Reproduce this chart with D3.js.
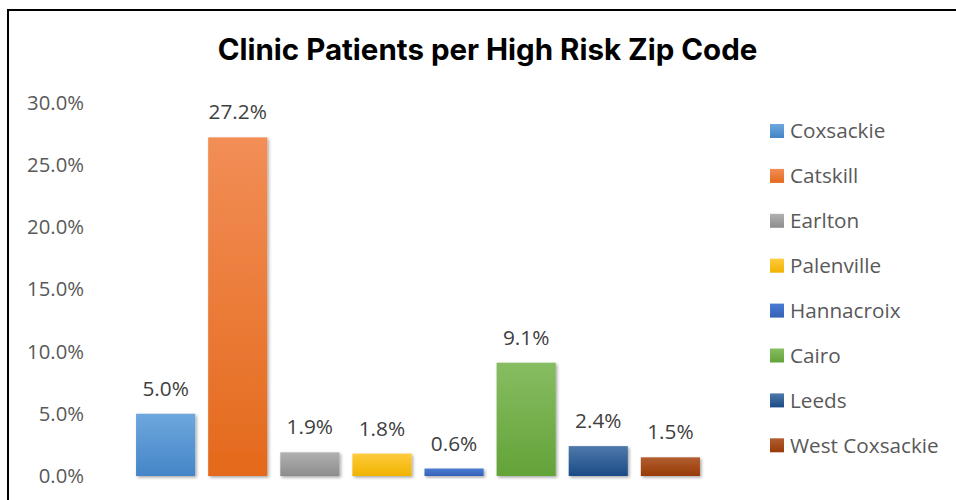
<!DOCTYPE html>
<html>
<head>
<meta charset="utf-8">
<script src="https://cdn.jsdelivr.net/npm/d3@7"></script>
<style>
  body { margin: 0; background: #fff; }
  svg { display: block; }
</style>
</head>
<body>
<div id="chart"></div>
<script>
// chart values
var zips = ["Coxsackie", "Catskill", "Earlton", "Palenville", "Hannacroix", "Cairo", "Leeds", "West Coxsackie"];
var shares = [5.0, 27.2, 1.9, 1.8, 0.6, 9.1, 2.4, 1.5];
var yTicks = [0, 5, 10, 15, 20, 25, 30];
var colorsTop = ["#6fa7de", "#f28e57", "#b1b1b1", "#ffcb3c", "#4b7cd1", "#87bd62", "#4e79ab", "#b25e31"];
var colorsBottom = ["#4485c7", "#e4691b", "#8d8d8d", "#efb300", "#3462b7", "#63a338", "#1a4b85", "#983a06"];

var W = 956, H = 500;

var svg = d3.select("#chart").append("svg")
  .attr("width", W)
  .attr("height", H);

var defs = svg.append("defs");

// soft drop shadow under the bars
var shadow = defs.append("filter")
  .attr("id", "shadow")
  .attr("x", "-20%").attr("y", "-20%")
  .attr("width", "150%").attr("height", "150%");
shadow.append("feDropShadow")
  .attr("dx", 1.5).attr("dy", 1.5)
  .attr("stdDeviation", 1.8)
  .attr("flood-color", "#000")
  .attr("flood-opacity", 0.35);

zips.forEach(function (z, i) {
  var g = defs.append("linearGradient")
    .attr("id", "grad" + i)
    .attr("x1", 0).attr("y1", 0).attr("x2", 0).attr("y2", 1);
  g.append("stop").attr("offset", "0%").attr("stop-color", colorsTop[i]);
  g.append("stop").attr("offset", "100%").attr("stop-color", colorsBottom[i]);
});

// border of the chart area (right/bottom edges run off the picture)
svg.append("rect")
  .attr("x", 8).attr("y", 10)
  .attr("width", 960).attr("height", 500)
  .attr("fill", "#fff")
  .attr("stroke", "#000")
  .attr("stroke-width", 2);

// title
svg.append("text")
  .attr("x", 487.5)
  .attr("y", 60)
  .attr("text-anchor", "middle")
  .style("font-family", "Inter, 'Liberation Sans', sans-serif")
  .style("font-weight", 700)
  .style("font-size", "29.5px")
  .attr("fill", "#000")
  .text("Clinic Patients per High Risk Zip Code");

var x = d3.scaleBand()
  .domain(zips)
  .range([100, 736])
  .paddingInner(0.18)
  .paddingOuter(0.5);

var y = d3.scaleLinear()
  .domain([0, 30])
  .range([476, 102.5]);

var fmt = function (d) { return d3.format(".1f")(d) + "%"; };

// y axis: labels only
var yAxis = svg.append("g")
  .attr("transform", "translate(84,0)")
  .call(d3.axisLeft(y).tickValues(yTicks).tickFormat(fmt).tickSize(0).tickPadding(0));
yAxis.select(".domain").remove();
yAxis.selectAll("text")
  .style("font-family", "'Open Sans', sans-serif")
  .style("font-size", "20.3px")
  .attr("fill", "#595959");

// bars
svg.append("g").selectAll("rect")
  .data(shares)
  .join("rect")
  .attr("x", function (d, i) { return x(zips[i]); })
  .attr("y", function (d) { return y(d); })
  .attr("width", x.bandwidth())
  .attr("height", function (d) { return y(0) - y(d); })
  .attr("fill", function (d, i) { return "url(#grad" + i + ")"; })
  .attr("filter", "url(#shadow)");

// data labels
svg.append("g").selectAll("text")
  .data(shares)
  .join("text")
  .attr("x", function (d, i) { return x(zips[i]) + x.bandwidth() / 2; })
  .attr("y", function (d) { return y(d) - 18; })
  .attr("text-anchor", "middle")
  .style("font-family", "'Open Sans', sans-serif")
  .style("font-size", "20.8px")
  .attr("fill", "#404040")
  .text(fmt);

// legend
var legend = svg.append("g").selectAll("g")
  .data(zips)
  .join("g")
  .attr("transform", function (d, i) { return "translate(770," + (131 + i * 44.9) + ")"; });

legend.append("rect")
  .attr("x", 0).attr("y", -7)
  .attr("width", 14).attr("height", 14)
  .attr("fill", function (d, i) { return "url(#grad" + i + ")"; });

legend.append("text")
  .attr("x", 20)
  .attr("y", 0)
  .attr("dy", "0.35em")
  .style("font-family", "'Open Sans', sans-serif")
  .style("font-size", "20.7px")
  .attr("fill", "#595959")
  .text(function (d) { return d; });
</script>
</body>
</html>
